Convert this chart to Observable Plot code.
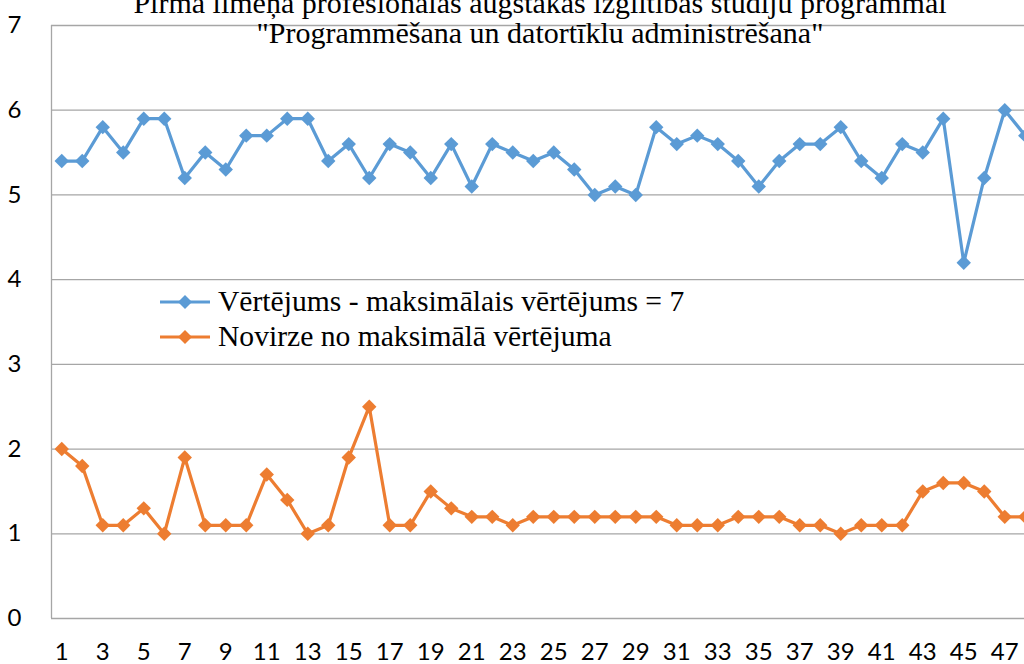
<!DOCTYPE html>
<html>
<head>
<meta charset="utf-8">
<script src="https://cdn.jsdelivr.net/npm/d3@7"></script>
<script src="https://cdn.jsdelivr.net/npm/@observablehq/plot@0.6"></script>
<style>
  html, body { margin: 0; padding: 0; overflow: hidden; background: #fff; width: 1024px; height: 664px; }
  #wrap { position: relative; width: 1024px; height: 664px; overflow: hidden; }
  #title { position: absolute; left: 0; width: 1080px; top: -12px; text-align: center; white-space: nowrap;
    font-family: "Liberation Serif", serif; font-size: 30px; line-height: 30px; color: #000; }
  #legend { position: absolute; left: 160px; top: 284px; font-family: "Liberation Serif", serif;
    font-size: 29.6px; color: #000; white-space: nowrap; }
  .li { display: flex; align-items: center; height: 35px; }
  .li svg { margin-right: 8px; }
  #chart { position: absolute; left: 0; top: 0; }
  #chart svg { max-width: none !important; }
</style>
</head>
<body>
<div id="wrap">
  <div id="chart"></div>
  <div id="title">Pirmā līmeņa profesionālās augstākās izglītības studiju programmai<br>"Programmēšana un datortīklu administrēšana"</div>
  <div id="legend"></div>
</div>
<script>
const indices = d3.range(1, 49);
const vertejums = [5.4,5.4,5.8,5.5,5.9,5.9,5.2,5.5,5.3,5.7,5.7,5.9,5.9,5.4,5.6,5.2,5.6,5.5,5.2,5.6,5.1,5.6,5.5,5.4,5.5,5.3,5.0,5.1,5.0,5.8,5.6,5.7,5.6,5.4,5.1,5.4,5.6,5.6,5.8,5.4,5.2,5.6,5.5,5.9,4.2,5.2,6.0,5.7];
const novirze = [2.0,1.8,1.1,1.1,1.3,1.0,1.9,1.1,1.1,1.1,1.7,1.4,1.0,1.1,1.9,2.5,1.1,1.1,1.5,1.3,1.2,1.2,1.1,1.2,1.2,1.2,1.2,1.2,1.2,1.2,1.1,1.1,1.1,1.2,1.2,1.2,1.1,1.1,1.0,1.1,1.1,1.1,1.5,1.6,1.6,1.5,1.2,1.2];
const seriesNames = ["Vērtējums - maksimālais vērtējums = 7", "Novirze no maksimālā vērtējuma"];
const seriesColors = ["#5B9BD5", "#ED7D31"];
const xTicks = d3.range(1, 48, 2);
const yTicks = [0,1,2,3,4,5,6,7];

const data = [
  ...indices.map((x, i) => ({x, y: vertejums[i], s: seriesNames[0]})),
  ...indices.map((x, i) => ({x, y: novirze[i], s: seriesNames[1]}))
];

const chart = Plot.plot({
  width: 1035,
  height: 664,
  marginLeft: 51,
  marginRight: 0,
  marginTop: 25,
  marginBottom: 46,
  style: { fontFamily: "Lato, 'Open Sans', sans-serif", fontSize: "24px", color: "#000", background: "transparent", maxWidth: "none", height: "664px" },
  x: { type: "linear", domain: [0.5, 48.5] },
  y: { domain: [0, 7] },
  color: { domain: seriesNames, range: seriesColors },
  marks: [
    Plot.ruleY(yTicks, { stroke: "#a6a6a6", strokeWidth: 1.3 }),
    Plot.ruleX([0.5], { stroke: "#a6a6a6", strokeWidth: 1.3 }),
    Plot.axisY(yTicks, { tickSize: 0, tickPadding: 30, fontSize: 24, label: null, tickFormat: d => String(d) }),
    Plot.axisX(xTicks, { tickSize: 0, tickPadding: 24, fontSize: 24, label: null, tickFormat: d => String(d) }),
    Plot.line(data, { x: "x", y: "y", z: "s", stroke: "s", strokeWidth: 3.2 }),
    Plot.dot(data, { x: "x", y: "y", fill: "s", symbol: "diamond2", r: 6.5, stroke: null })
  ]
});
document.getElementById("chart").appendChild(chart);

const legend = document.getElementById("legend");
seriesNames.forEach((name, i) => {
  const row = document.createElement("div");
  row.className = "li";
  row.innerHTML = `<svg width="50" height="16"><line x1="0" y1="8" x2="50" y2="8" stroke="${seriesColors[i]}" stroke-width="3.2"/><path d="M25,1 L32,8 L25,15 L18,8 Z" fill="${seriesColors[i]}"/></svg><span>${name}</span>`;
  legend.appendChild(row);
});
</script>
</body>
</html>
